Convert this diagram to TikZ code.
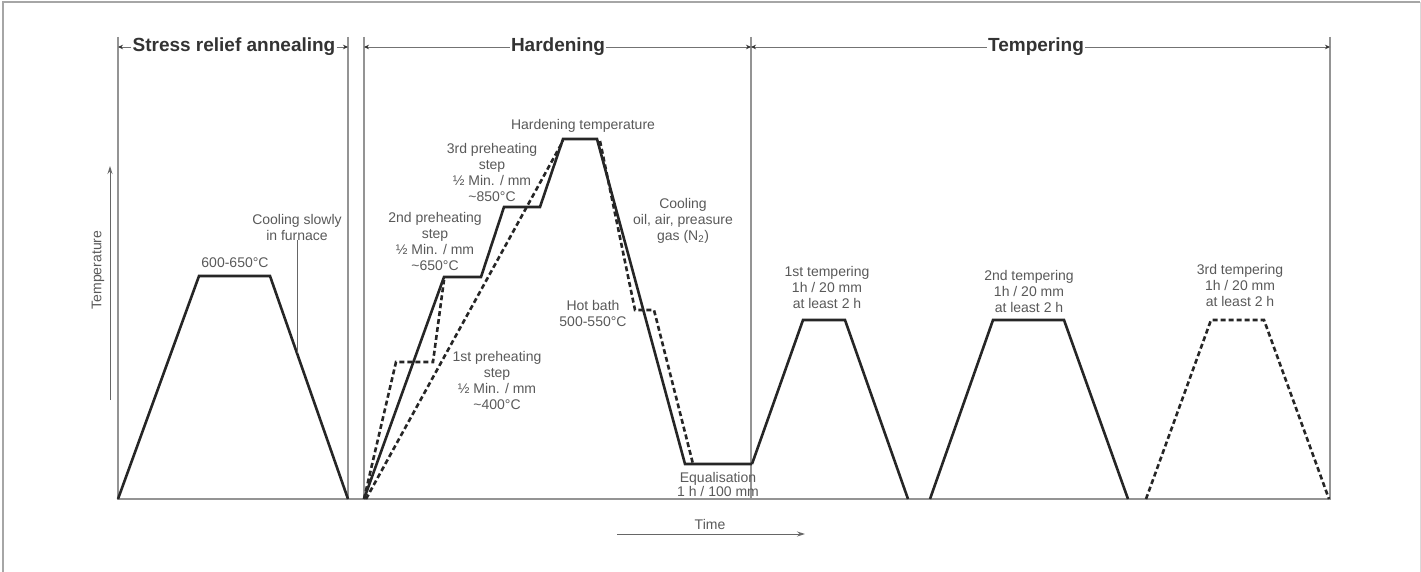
\documentclass[tikz,border=0pt]{standalone}
\usepackage{fontspec}
\setmainfont{Liberation Sans}
\usetikzlibrary{arrows.meta}
\begin{document}
\begin{tikzpicture}[x=1pt,y=-1pt,
  frame/.style={draw=black!35,line width=2pt},
  guide/.style={draw=black!42,line width=1.6pt},
  curve/.style={draw=black!85,line width=2.6pt,line join=miter},
  dcurve/.style={curve,dash pattern=on 5pt off 3pt},
  hdr/.style={font=\bfseries\fontsize{19}{19}\selectfont,text=black!80,inner sep=0pt},
  lbl/.style={font=\fontsize{14}{16}\selectfont,text=black!65,align=center,inner sep=0pt},
  harr/.style={draw=black!55,line width=0.8pt,-{Stealth[length=5pt,width=4.5pt,color=black!80]}},
  axarr/.style={draw=black!60,line width=1pt,-{Stealth[length=8pt,width=5pt]}},
]
\useasboundingbox (0,0) rectangle (1421,572);
% frame
\draw[frame] (2.5,572) -- (2.5,2.5) -- (1419.5,2.5);
\draw[draw=black!15,line width=1pt] (1420.5,2.5) -- (1420.5,572);
% guides
\foreach \n/\x in {vSa/118,vSb/348,vHa/364,vHb/751,vTb/1330}{
  \coordinate (\n top) at (\x,37);
  \coordinate (\n bot) at (\x,499);
  \draw[guide] (\n top) -- (\n bot);
}
\coordinate (baseL) at (117,499);
\coordinate (baseR) at (1331,499);
\draw[guide] (baseL) -- (baseR);
% headers
\node[hdr] (hdrS) at (234,47) {Stress relief annealing};
\node[hdr] (hdrH) at (558,47) {Hardening};
\node[hdr] (hdrT) at (1036,47) {Tempering};
\coordinate (hSa) at (118,47); \coordinate (hSb) at (348,47);
\coordinate (hHa) at (364,47); \coordinate (hHb) at (751,47);
\coordinate (hTa) at (751,47); \coordinate (hTb) at (1330,47);
\draw[harr] ([xshift=-1pt]hdrS.west) -- (hSa);
\draw[harr] ([xshift=1pt]hdrS.east) -- (hSb);
\draw[harr] ([xshift=-1pt]hdrH.west) -- (hHa);
\draw[harr] ([xshift=1pt]hdrH.east) -- (hHb);
\draw[harr] ([xshift=-1pt]hdrT.west) -- (hTa);
\draw[harr] ([xshift=1pt]hdrT.east) -- (hTb);
% axes
\node[lbl,rotate=90] (ylab) at (98,270) {Temperature};
\coordinate (yA) at (110,400); \coordinate (yB) at (110,166);
\draw[axarr] (yA) -- (yB);
\node[lbl] (xlab) at (710,524) {Time};
\coordinate (xA) at (617,534); \coordinate (xB) at (805,534);
\draw[axarr] (xA) -- (xB);
% stress relief
\draw[curve] (118,499) -- (199,276) -- (270,276) -- (348,499);
\node[lbl] (sT) at (235,263) {600-650°C};
\node[lbl] (sC) at (297,227.5) {Cooling slowly\\in furnace};
\coordinate (sCl) at (297,353);
\draw[draw=black!60,line width=0.8pt] ([yshift=1pt]sC.south) -- (sCl);
% hardening solid
\draw[curve] (364,499) -- (444,277) -- (481,277) -- (504,207) -- (540,207)
  -- (563,139) -- (597,139) -- (685,464) -- (752,464);
% hardening dashed
\draw[dcurve] (364,499) -- (396,362) -- (433,362) -- (444,280);
\draw[dcurve] (366,499) -- (563,141);
\draw[dcurve] (600,141) -- (635,310) -- (654,310) -- (693,464);
% hardening labels
\node[lbl] (hT) at (583,126) {Hardening temperature};
\node[lbl] (p3) at (492,172) {3rd preheating\\step\\½ Min. / mm\\\textasciitilde850°C};
\node[lbl] (p2) at (435,241) {2nd preheating\\step\\½ Min. / mm\\\textasciitilde650°C};
\node[lbl] (p1) at (497,380) {1st preheating\\step\\½ Min. / mm\\\textasciitilde400°C};
\node[lbl] (hb) at (593,313.5) {Hot bath\\500-550°C};
\node[lbl] (cl) at (683,221) {Cooling\\oil, air, preasure\\gas (N\textsubscript{2})};
\node[lbl,font=\fontsize{14}{14}\selectfont] (eq) at (718,484) {Equalisation\\1 h / 100 mm};
% tempering
\draw[curve] (752,464) -- (803,320) -- (845,320) -- (908,499);
\draw[curve] (930,499) -- (993,320) -- (1064,320) -- (1128,499);
\draw[dcurve] (1146,499) -- (1211,320) -- (1264,320) -- (1329,499);
\node[lbl] (t1) at (827,287.5) {1st tempering\\1h / 20 mm\\at least 2 h};
\node[lbl] (t2) at (1029,291) {2nd tempering\\1h / 20 mm\\at least 2 h};
\node[lbl] (t3) at (1240,285) {3rd tempering\\1h / 20 mm\\at least 2 h};
\end{tikzpicture}
\end{document}
